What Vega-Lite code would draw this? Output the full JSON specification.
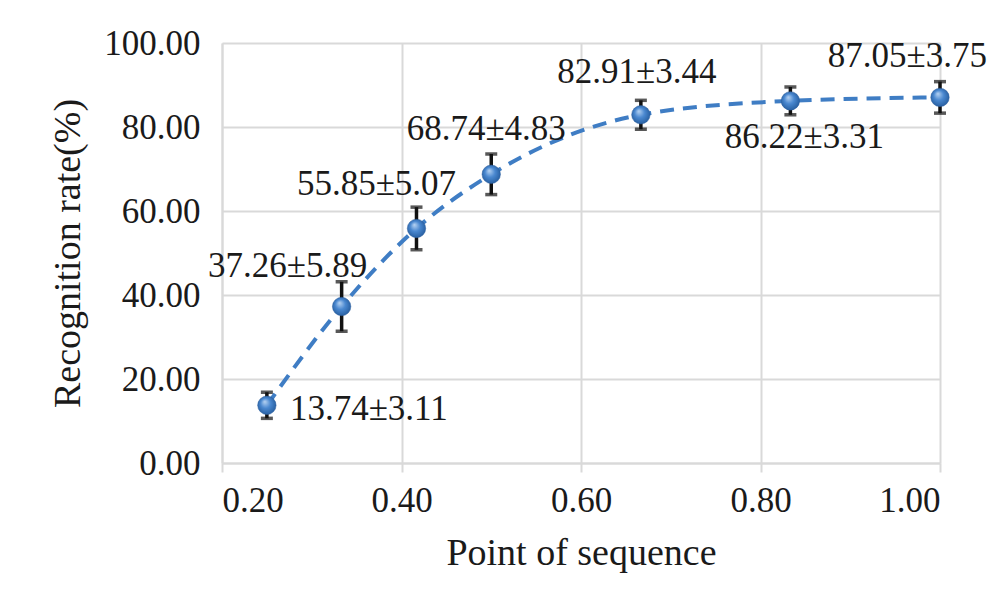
{
  "$schema": "https://vega.github.io/schema/vega-lite/v6.json",
  "width": 718,
  "height": 420,
  "autosize": {"type": "none"},
  "padding": {"left": 222, "top": 43, "right": 50, "bottom": 137},
  "background": "white",
  "config": {
    "font": "Liberation Serif",
    "view": {"stroke": null},
    "axis": {
      "labelFont": "Liberation Serif",
      "titleFont": "Liberation Serif",
      "labelFontSize": 35,
      "titleFontSize": 38,
      "labelColor": "#1a1a1a",
      "titleColor": "#1a1a1a",
      "titleFontWeight": "normal",
      "gridColor": "#d9d9d9",
      "gridWidth": 2,
      "domainColor": "#d9d9d9",
      "domainWidth": 2,
      "tickColor": "#d9d9d9",
      "tickWidth": 2
    }
  },
  "data": {
    "values": [
      {"point": 0.25, "rate": 13.74, "sd": 3.11, "label": "13.74±3.11"},
      {"point": 0.3333, "rate": 37.26, "sd": 5.89, "label": "37.26±5.89"},
      {"point": 0.4167, "rate": 55.85, "sd": 5.07, "label": "55.85±5.07"},
      {"point": 0.5, "rate": 68.74, "sd": 4.83, "label": "68.74±4.83"},
      {"point": 0.6667, "rate": 82.91, "sd": 3.44, "label": "82.91±3.44"},
      {"point": 0.8333, "rate": 86.22, "sd": 3.31, "label": "86.22±3.31"},
      {"point": 1.0, "rate": 87.05, "sd": 3.75, "label": "87.05±3.75"}
    ]
  },
  "encoding": {
    "x": {
      "field": "point",
      "type": "quantitative",
      "scale": {"domain": [0.2, 1.0], "nice": false, "zero": false},
      "axis": {
        "values": [0.2, 0.4, 0.6, 0.8, 1.0],
        "format": ".2f",
        "title": "Point of sequence",
        "tickSize": 9,
        "labelPadding": 11,
        "titlePadding": 16
      }
    },
    "y": {
      "field": "rate",
      "type": "quantitative",
      "scale": {"domain": [0, 100], "nice": false},
      "axis": {
        "values": [0, 20, 40, 60, 80, 100],
        "format": ".2f",
        "title": "Recognition rate(%)",
        "ticks": false,
        "labelPadding": 22,
        "titlePadding": 16
      }
    }
  },
  "layer": [
    {
      "mark": {"type": "line", "interpolate": "monotone", "strokeDash": [14, 9], "strokeWidth": 4, "color": "#3f7dc4"}
    },
    {
      "mark": {"type": "errorbar", "ticks": {"size": 12, "thickness": 3.5, "color": "#111111"}, "rule": {"strokeWidth": 3.5, "color": "#111111"}},
      "encoding": {"yError": {"field": "sd"}}
    },
    {
      "mark": {
        "type": "circle",
        "size": 340,
        "opacity": 1,
        "stroke": "#2c5f9e",
        "strokeWidth": 0.5,
        "fill": {
          "gradient": "radial",
          "x1": 0.38, "y1": 0.3, "r1": 0,
          "x2": 0.5, "y2": 0.5, "r2": 0.6,
          "stops": [
            {"offset": 0, "color": "#b7d3f2"},
            {"offset": 0.45, "color": "#4a88d0"},
            {"offset": 1, "color": "#1f5595"}
          ]
        }
      }
    },
    {
      "transform": [{"filter": {"field": "label", "equal": "13.74±3.11"}}],
      "mark": {"type": "text", "fontSize": 35, "align": "left", "baseline": "middle", "dx": 23, "dy": 4, "color": "#1a1a1a"},
      "encoding": {"text": {"field": "label"}}
    },
    {
      "transform": [{"filter": {"field": "label", "equal": "37.26±5.89"}}],
      "mark": {"type": "text", "fontSize": 35, "align": "center", "baseline": "middle", "dx": -54, "dy": -41, "color": "#1a1a1a"},
      "encoding": {"text": {"field": "label"}}
    },
    {
      "transform": [{"filter": {"field": "label", "equal": "55.85±5.07"}}],
      "mark": {"type": "text", "fontSize": 35, "align": "center", "baseline": "middle", "dx": -40, "dy": -44, "color": "#1a1a1a"},
      "encoding": {"text": {"field": "label"}}
    },
    {
      "transform": [{"filter": {"field": "label", "equal": "68.74±4.83"}}],
      "mark": {"type": "text", "fontSize": 35, "align": "center", "baseline": "middle", "dx": -5, "dy": -45, "color": "#1a1a1a"},
      "encoding": {"text": {"field": "label"}}
    },
    {
      "transform": [{"filter": {"field": "label", "equal": "82.91±3.44"}}],
      "mark": {"type": "text", "fontSize": 35, "align": "center", "baseline": "middle", "dx": -4, "dy": -43, "color": "#1a1a1a"},
      "encoding": {"text": {"field": "label"}}
    },
    {
      "transform": [{"filter": {"field": "label", "equal": "86.22±3.31"}}],
      "mark": {"type": "text", "fontSize": 35, "align": "center", "baseline": "middle", "dx": 14, "dy": 36, "color": "#1a1a1a"},
      "encoding": {"text": {"field": "label"}}
    },
    {
      "transform": [{"filter": {"field": "label", "equal": "87.05±3.75"}}],
      "mark": {"type": "text", "fontSize": 35, "align": "right", "baseline": "middle", "dx": 47, "dy": -41, "color": "#1a1a1a"},
      "encoding": {"text": {"field": "label"}}
    }
  ]
}
